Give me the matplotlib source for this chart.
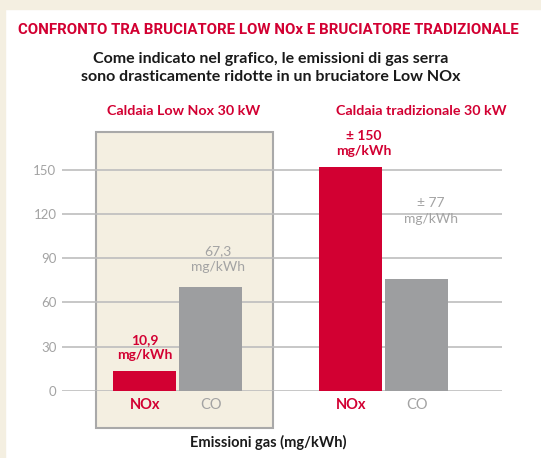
import matplotlib
matplotlib.use("Agg")
import matplotlib.pyplot as plt
from matplotlib.patches import Rectangle
import numpy as np

# dati
gruppi = ["Caldaia Low Nox 30 kW", "Caldaia tradizionale 30 kW"]
gas = ["NOx", "CO"]
nox = [13.5, 152]
co = [70.5, 76]
etichette_nox = ["10,9\nmg/kWh", "± 150\nmg/kWh"]
etichette_co = ["67,3\nmg/kWh", "± 77\nmg/kWh"]
yticks = [0, 30, 60, 90, 120, 150]

ROSSO = "#d20032"
GRIGIO = "#9d9ea0"
GRIGIO_TXT = "#a3a3a3"
BEIGE = "#f4efe1"

W, H = 541, 458
fig = plt.figure(figsize=(W / 100, H / 100), dpi=100)
plt.rcParams["font.family"] = ["Lato", "DejaVu Sans"]


def px(x, y):
    return x / W, 1 - y / H


# bordo beige in alto e a sinistra
fig.patches.append(Rectangle((0, 1 - 9 / H), 1, 9 / H, transform=fig.transFigure,
                             color=BEIGE, zorder=0))
fig.patches.append(Rectangle((0, 0), 5 / W, 1, transform=fig.transFigure,
                             color=BEIGE, zorder=0))

# assi: 0 a y=390.7px, 150 a y=170px
y0, y150 = 390.7, 170.0
ppu = (y0 - y150) / 150
ymax = 200
left, right = 62, 502
ax = fig.add_axes([left / W, 1 - y0 / H, (right - left) / W, ymax * ppu / H])
ax.set_ylim(0, ymax)
xc0, dx = 177.7, 206.3
ax.set_xlim((left - xc0) / dx, (right - xc0) / dx)
ax.patch.set_alpha(0)
for s in ax.spines.values():
    s.set_visible(False)
ax.set_yticks(yticks)
ax.set_yticklabels([str(v) for v in yticks], color=GRIGIO_TXT, fontsize=9.5)
ax.tick_params(axis="y", length=0, pad=4)
ax.set_xticks([])
ax.yaxis.grid(True, color="#bdbdbd", linewidth=1.2)
ax.set_axisbelow(True)

x = np.arange(len(gruppi))
w = 63 / dx
off = 33 / dx

# riquadro beige del primo gruppo
ax.add_patch(Rectangle(((96 - xc0) / dx, -(428 - y0) / ppu), (273 - 96) / dx,
                       (428 - 131.7) / ppu, facecolor=BEIGE, edgecolor="#a9a9a9",
                       linewidth=1.5, clip_on=False, zorder=0))

ax.bar(x - off, nox, w, color=ROSSO, zorder=3)
ax.bar(x + off, co, w, color=GRIGIO, zorder=3)

# etichette valori
sp_nox = [(0, 7), (9, 7)]
sp_co = [(5, 10), (10, 39)]
for i in range(len(gruppi)):
    ax.annotate(etichette_nox[i], (x[i] - off, nox[i]), xytext=sp_nox[i],
                textcoords="offset points", ha="center", va="bottom",
                color=ROSSO, fontsize=10, fontweight="bold", linespacing=1.35)
    ax.annotate(etichette_co[i], (x[i] + off, co[i]), xytext=sp_co[i],
                textcoords="offset points", ha="center", va="bottom",
                color=GRIGIO_TXT, fontsize=10, linespacing=1.35)
    ax.text(x[i] - off, -10, gas[0], ha="center", va="center", color=ROSSO,
            fontsize=10.5, fontweight="bold")
    ax.text(x[i] + off, -10, gas[1], ha="center", va="center", color=GRIGIO_TXT,
            fontsize=10.5)

# titoli dei gruppi
for gx, t in zip([184, 421], gruppi):
    fig.text(*px(gx, 111), t, ha="center", va="center", color=ROSSO,
             fontsize=10.3, fontweight="bold")

titolo = fig.text(*px(268, 30), "CONFRONTO TRA BRUCIATORE LOW NOx E BRUCIATORE TRADIZIONALE",
                  ha="center", va="center", color=ROSSO, fontsize=11, fontweight="bold",
                  family=["Roboto", "DejaVu Sans"])
# adatta il titolo alla larghezza dell'originale (~500 px)
r = fig.canvas.get_renderer()
larg = titolo.get_window_extent(r).width
titolo.set_fontsize(11 * 500 / larg)

fig.text(*px(271, 68), "Come indicato nel grafico, le emissioni di gas serra\n"
         "sono drasticamente ridotte in un bruciatore Low NOx",
         ha="center", va="center", color="#1a1a1a", fontsize=11.5, fontweight="bold",
         linespacing=1.3)
fig.text(*px(268, 442), "Emissioni gas (mg/kWh)", ha="center", va="center",
         color="#1a1a1a", fontsize=10.5, fontweight="bold")

fig.savefig("out.png", dpi=100)
